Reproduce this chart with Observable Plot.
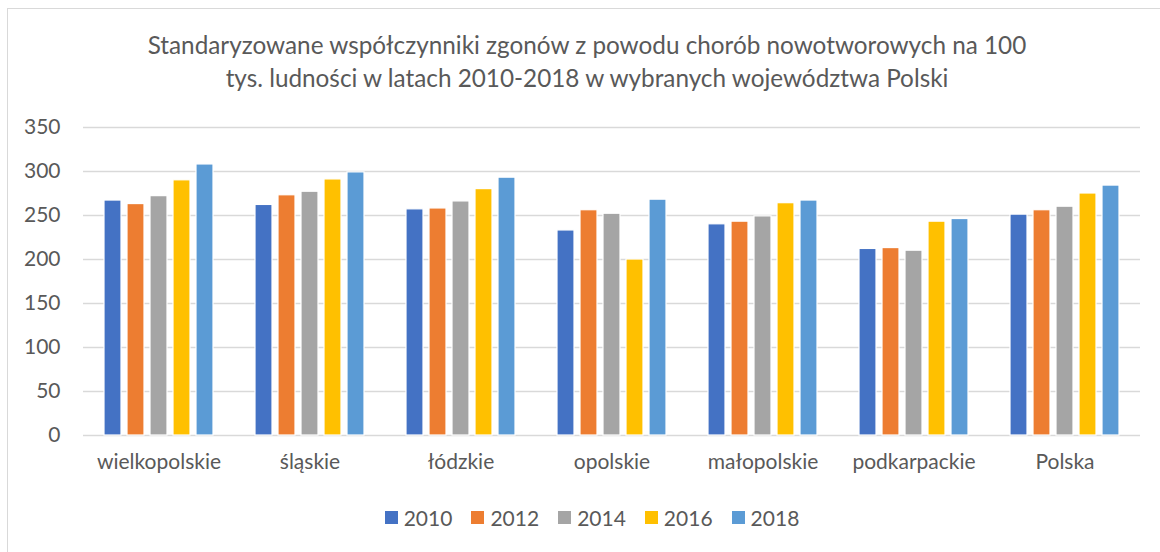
<!DOCTYPE html>
<html>
<head>
<meta charset="utf-8">
<script src="https://cdn.jsdelivr.net/npm/d3@7"></script>
<script src="https://cdn.jsdelivr.net/npm/@observablehq/plot@0.6"></script>
<style>
  html, body { margin: 0; padding: 0; background: #fff; overflow: hidden; width: 1160px; height: 552px; }
  body { position: relative; font-family: "Lato", sans-serif; color: #595959; }
  #frame { position: absolute; left: 7px; top: 8px; width: 1170px; height: 560px; border: 1.5px solid #d9d9d9; box-sizing: border-box; }
  #title { position: absolute; left: 0; top: 28px; width: 1174px; text-align: center; font-size: 24.3px; line-height: 33px; color: #595959; }
  #chart { position: absolute; left: 0; top: 100px; }
  #legend { position: absolute; left: 0; top: 505px; width: 1184px; display: flex; justify-content: center; gap: 19px; font-size: 21px; color: #595959; }
  .item { display: flex; align-items: center; gap: 6px; }
  .sw { width: 13px; height: 13px; display: inline-block; }
</style>
</head>
<body>
<div id="frame"></div>
<div id="title">Standaryzowane współczynniki zgonów z powodu chorób nowotworowych na 100<br>tys. ludności w latach 2010-2018 w wybranych województwa Polski</div>
<div id="chart"></div>
<div id="legend"></div>
<script>
const regions = ["wielkopolskie", "śląskie", "łódzkie", "opolskie", "małopolskie", "podkarpackie", "Polska"];
const years = ["2010", "2012", "2014", "2016", "2018"];
const colors = ["#4472c4", "#ed7d31", "#a5a5a5", "#ffc000", "#5b9bd5"];
const v2010 = [267, 262, 257, 233, 240, 212, 251];
const v2012 = [263, 273, 258, 256, 243, 213, 256];
const v2014 = [272, 277, 266, 252, 249, 210, 260];
const v2016 = [290, 291, 280, 200, 264, 243, 275];
const v2018 = [308, 299, 293, 268, 267, 246, 284];
const yTicks = [0, 50, 100, 150, 200, 250, 300, 350];

const series = [v2010, v2012, v2014, v2016, v2018];
const data = [];
regions.forEach((r, i) => years.forEach((y, j) => data.push({region: r, year: y, value: series[j][i]})));

const plot = Plot.plot({
  width: 1160,
  height: 390,
  marginLeft: 83,
  marginRight: 20,
  marginTop: 27,
  marginBottom: 55,
  style: {fontFamily: "Lato, sans-serif", fontSize: "21px", color: "#595959", background: "transparent"},
  fx: {domain: regions, padding: 0, label: null, tickSize: 0, tickPadding: 19, axis: "bottom"},
  x: {domain: years, axis: null, paddingInner: 0.24, paddingOuter: 0.86},
  y: {domain: [0, 350], ticks: yTicks, label: null, tickSize: 0, tickPadding: 23},
  color: {domain: years, range: colors},
  marks: [
    Plot.gridY(yTicks.slice(1), {stroke: "#d9d9d9", strokeOpacity: 1, strokeWidth: 1.5}),
    Plot.ruleY([0], {stroke: "#d9d9d9", strokeWidth: 1.5}),
    Plot.barY(data, {fx: "region", x: "year", y: "value", fill: "year", stroke: "white", strokeWidth: 1.2})
  ]
});
document.getElementById("chart").appendChild(plot);

const legend = document.getElementById("legend");
years.forEach((y, i) => {
  const it = document.createElement("div");
  it.className = "item";
  it.innerHTML = `<span class="sw" style="background:${colors[i]}"></span><span>${y}</span>`;
  legend.appendChild(it);
});
</script>
</body>
</html>
